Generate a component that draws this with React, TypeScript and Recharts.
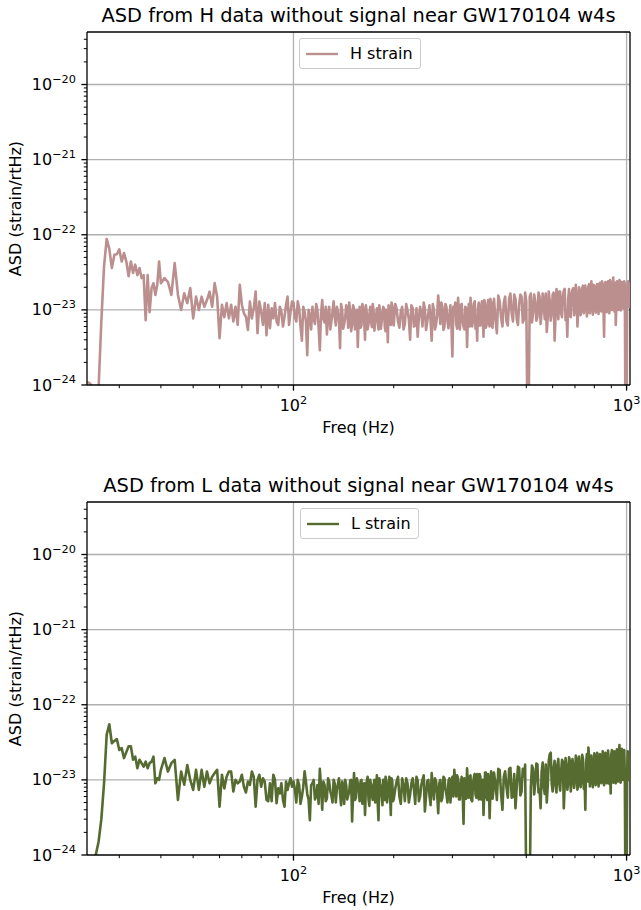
import React from 'react';
import { LineChart, Line, XAxis, YAxis, CartesianGrid, ReferenceLine, Legend } from 'recharts';

const FONT = '"DejaVu Sans", Verdana, sans-serif';

// frequency bins (Hz)
const freqLow = [24, 24.5, 25, 25.5, 26, 26.5, 27, 27.5, 28, 28.5, 29, 29.5, 30, 30.5, 31, 31.5, 32, 32.5, 33, 33.5, 34, 34.5, 35, 35.5, 36, 36.5, 37, 37.5, 38, 38.5, 39, 39.5];
const freqMid = [40, 41, 42, 43, 44, 45, 46, 47, 48, 49, 50, 51, 52, 53, 54, 55, 56, 57, 58, 59, 60, 61, 62, 63, 64, 65, 66, 67, 68, 69, 70, 71, 72, 73, 74, 75, 76, 77, 78, 79, 80, 81, 82, 83, 84, 85, 86, 87, 88, 89, 90, 91, 92, 93, 94, 95, 96, 97, 98, 99];
const freqHigh1 = [100, 102, 104, 106, 108, 110, 112, 114, 116, 118, 120, 122, 124, 126, 128, 130, 132, 134, 136, 138, 140, 142, 144, 146, 148, 150, 152, 154, 156, 158, 160, 162, 164, 166, 168, 170, 172, 174, 176, 178, 180, 182, 184, 186, 188, 190, 192, 194, 196, 198];
const freqHigh1b = [101, 103, 105, 107, 109, 111, 113, 115, 117, 119, 121, 123, 125, 127, 129, 131, 133, 135, 137, 139, 141, 143, 145, 147, 149, 151, 153, 155, 157, 159, 161, 163, 165, 167, 169, 171, 173, 175, 177, 179, 181, 183, 185, 187, 189, 191, 193, 195, 197, 199];
const freqHigh2 = [200, 204, 208, 212, 216, 220, 224, 228, 232, 236, 240, 244, 248, 252, 256, 260, 264, 268, 272, 276, 280, 284, 288, 292, 296, 300, 304, 308, 312, 316, 320, 324, 328, 332, 336, 340, 344, 348, 352, 356, 360, 364, 368, 372, 376, 380, 384, 388, 392, 396];
const freqHigh2b = [202, 206, 210, 214, 218, 222, 226, 230, 234, 238, 242, 246, 250, 254, 258, 262, 266, 270, 274, 278, 282, 286, 290, 294, 298, 302, 306, 310, 314, 318, 322, 326, 330, 334, 338, 342, 346, 350, 354, 358, 362, 366, 370, 374, 378, 382, 386, 390, 394, 398];
const freqHigh3 = [400, 408, 416, 424, 432, 440, 448, 456, 464, 472, 480, 488, 496, 504, 512, 520, 528, 536, 544, 552, 560, 568, 576, 584, 592, 600, 608, 616, 624, 632, 640, 648, 656, 664, 672, 680, 688, 696, 704, 712, 720, 728, 736, 744, 752, 760, 768, 776, 784, 792, 800, 808, 816, 824, 832, 840, 848, 856, 864, 872, 880, 888, 896, 904, 912, 920, 928, 936, 944, 952, 960, 968, 976, 984, 992, 1000, 1008, 1016, 1024];
const freqHigh3b = [404, 412, 420, 428, 436, 444, 452, 460, 468, 476, 484, 492, 500, 508, 516, 524, 532, 540, 548, 556, 564, 572, 580, 588, 596, 604, 612, 620, 628, 636, 644, 652, 660, 668, 676, 684, 692, 700, 708, 716, 724, 732, 740, 748, 756, 764, 772, 780, 788, 796, 804, 812, 820, 828, 836, 844, 852, 860, 868, 876, 884, 892, 900, 908, 916, 924, 932, 940, 948, 956, 964, 972, 980, 988, 996, 1004, 1012, 1020];

// H1 ASD, in units of 1e-24 strain/rtHz
const hLow = [1.1, 1.05, 0.9, 0.7, 0.9, 7, 38, 88, 65, 36, 54, 55, 64, 44, 57, 44, 28, 44, 31, 40, 29, 36, 26.5, 29, 7.3, 29, 9.3, 19.5, 22.7, 15.8, 21.5, 44];
const hMid = [22.7, 26.5, 23.5, 15.8, 42, 15.8, 10, 16.6, 12.3, 19.5, 7.7, 15, 10, 15, 11, 13.5, 17.5, 11, 22.7, 15, 4.2, 11.7, 8, 12.3, 7.7, 11.7, 7, 11, 6.3, 21.5, 11.7, 9, 8.1, 5.4, 12.9, 7.7, 10.5, 17.5, 4.9, 12.9, 9.5, 6.3, 12.3, 4.6, 11.7, 5.7, 10.5, 7.7, 12.3, 7, 6.3, 11, 9.5, 6, 8.1, 11.7, 15, 6.3, 9.5, 12.9];
const hHigh1 = [12.5, 7, 10.5, 3.9, 9.5, 2.5, 8.5, 11, 6.5, 10, 2.9, 13.5, 6.8, 4.7, 11, 7, 13, 6.2, 9.5, 3.1, 10, 6.5, 11.5, 5.8, 9.8, 6.4, 10.5, 7, 3.2, 11, 6.2, 10.5, 4.0, 9, 6.5, 11, 5.9, 9.8, 6.8, 10.5, 5.5, 9.5, 7, 11, 6, 10, 3.7, 9.5, 6.3, 11];
const hHigh1b = [8, 13, 6, 11, 7, 10, 5.5, 7.5, 12, 5.8, 9, 7.5, 11, 8.5, 5.5, 9.5, 8, 11, 7, 12, 5.6, 8, 9.5, 12.5, 5.2, 11.5, 5.5, 10, 8, 5.8, 12, 7.5, 11.5, 5.5, 8.5, 7, 12, 5.3, 8, 7.5, 11.5, 5.6, 8.5, 10.5, 5.2, 8, 11.5, 6.5, 12.5, 7];
const hHigh2 = [6.2, 10.5, 5.8, 11, 6.5, 9.8, 4.0, 10.5, 6.2, 4.4, 11, 6, 10.5, 6.8, 11.5, 3.9, 10, 6.4, 15.5, 6.5, 11, 6, 10.8, 5.7, 11.5, 2.4, 9.5, 6.5, 14.5, 5.5, 12, 6, 11, 3.2, 12, 14.5, 6, 12, 5.6, 3.9, 12.5, 6.2, 13, 4.4, 12, 6.3, 13.5, 6, 12.5, 5.8];
const hHigh2b = [12, 7, 9.5, 5.5, 12, 7.5, 11.5, 6, 10.5, 8, 9, 12.5, 5.4, 9, 7.2, 12, 5.5, 8.5, 10, 12.5, 5.4, 12, 7, 8.5, 6.2, 11, 12.5, 5.6, 9, 11.5, 7, 5.5, 10.5, 8, 6, 10, 7.5, 13, 8, 10.5, 6.2, 11, 7.5, 13.5, 5.8, 10, 7.2, 14, 6.4, 11];
const hHigh3 = [14, 4.9, 13, 6, 15, 6.2, 16.5, 7, 14, 6.3, 16, 6.8, 17, 0.3, 15, 6.8, 16, 7.2, 17, 6.5, 16.5, 7.5, 5.1, 17.5, 7.2, 16, 3.9, 19, 7.5, 17.5, 8, 18, 7.3, 4.4, 19, 8, 18.5, 8.5, 21.5, 6, 20, 8.5, 19.5, 9, 21, 8.2, 20.5, 9, 24, 8.6, 21, 9.2, 22, 8.8, 23, 9.5, 22, 4.4, 23.5, 9.3, 24, 9, 23, 10, 27, 9.5, 6.3, 24, 10, 25, 9.8, 23.5, 10.5, 24, 0.3, 0.3, 22, 11, 23];
const hHigh3b = [7.5, 15.5, 8, 12.5, 7, 14, 9, 16, 7.5, 12, 15, 7.5, 13, 0.3, 16.5, 9, 13, 8, 15, 9.5, 12, 16.5, 8, 13, 9, 17, 8, 14, 17.5, 9, 15, 19, 9.5, 14, 8.5, 16, 19.5, 10, 15, 9.5, 18, 10, 21, 11, 17, 10, 22, 11, 17, 21.5, 10.5, 18, 10.5, 21, 11, 24, 11, 18, 10.5, 21, 12, 25, 11, 19, 11.5, 23, 12, 20, 11.5, 24, 12, 20, 11, 22, 0.3, 12, 24, 12];

// L1 ASD, in units of 1e-24 strain/rtHz
const lLow = [0.3, 0.5, 0.6, 1.0, 1.5, 3, 9, 40, 55, 30.7, 33, 35, 25, 26.5, 19.5, 23.4, 28, 28, 18.5, 20.4, 14.3, 18.5, 16.7, 15, 17.5, 14.3, 16.7, 17.5, 20.4, 9, 10.5, 10];
const lMid = [13.6, 19.5, 12.9, 16.7, 18.5, 5.4, 12.9, 8.6, 15.8, 10, 7.35, 13.6, 7.35, 13.6, 8.1, 12.9, 9, 11, 12.3, 13.6, 4.4, 11.7, 7.7, 11, 12.9, 12.9, 7, 10, 9, 9.5, 11.7, 8.1, 6.8, 9.5, 8.6, 12.9, 11, 4.4, 10, 11.7, 8.1, 10.5, 9.5, 5.4, 5.2, 9, 5.2, 11.7, 10, 4.9, 7.7, 6.6, 9, 5.4, 4.4, 9.5, 7.35, 9, 10.5, 8.1];
const lHigh1 = [9.5, 5, 8.5, 6, 13, 6.5, 2.9, 9, 5.5, 8.5, 14, 4, 8.5, 5.6, 9.5, 6.2, 10, 5, 8.8, 6.5, 9.5, 4.8, 8.5, 6.2, 9.8, 2.8, 12.3, 5.8, 9, 5.2, 10, 6, 3.4, 9.5, 5.5, 10, 6.2, 8.5, 5, 11.5, 2.9, 9, 6, 10, 5.4, 9.2, 6.5, 11, 3.4, 9.5];
const lHigh1b = [7.5, 10, 4.8, 8, 9.5, 5.5, 8.5, 10, 6, 4.8, 8, 9.5, 5.2, 10.5, 7, 5, 9, 7.5, 10.5, 4.6, 8, 10, 5.5, 7, 10, 6.5, 5.4, 10.5, 7.5, 9.5, 4.8, 9, 8, 11, 4.5, 8.5, 5.4, 10, 7.2, 5, 10.5, 8, 4.6, 7.5, 11, 5, 8.5, 6.2, 10.5, 5.2];
const lHigh2 = [5.5, 9.5, 6, 10.5, 5.2, 9, 6.4, 10.5, 4.8, 9.8, 6, 10, 3.8, 9.5, 6.2, 12.3, 5.5, 9.5, 3.6, 10, 5.8, 10.5, 6.3, 9.6, 5, 11, 13.6, 6, 10.5, 5.5, 11, 2.6, 10, 14.3, 5.8, 11.5, 5.2, 10.8, 6.4, 12, 5.5, 11, 6, 3.4, 12.5, 5.8, 12, 3.1, 13, 5.6];
const lHigh2b = [7.5, 11, 4.8, 8.5, 10.5, 5, 9, 7.5, 11, 5.2, 8.5, 11.5, 6, 10, 4.6, 8, 10.5, 6.5, 9, 5.2, 11, 7.5, 5, 10.5, 8, 6, 9.5, 11.5, 5.5, 9, 7, 10.5, 5.6, 8.5, 11, 5.4, 9, 12, 5.8, 8, 12, 5.5, 10, 7, 12.5, 5.4, 9.5, 6.5, 11.5, 7];
const lHigh3 = [12.5, 5.4, 13.5, 4, 13, 5.8, 14.5, 6, 4.2, 15, 6.2, 14, 16, 0.3, 0.3, 15.5, 6.4, 16.5, 6.8, 4.2, 17, 6.5, 5, 18, 23, 7, 18, 6.8, 19, 7.2, 18.5, 4.2, 19.5, 7.4, 20, 7, 19, 7.8, 21, 7.4, 20.5, 8, 21.5, 7.6, 4, 22, 27, 8.2, 21, 8, 22.5, 8.5, 23, 8.2, 22, 9, 24, 8.5, 23, 9, 24.5, 8.8, 6.6, 25, 9.2, 24, 9, 25.5, 9.5, 29, 9.2, 26, 10, 25, 0.3, 0.3, 24, 10, 22];
const lHigh3b = [9, 14, 6.5, 11, 8, 14, 5.8, 12, 8, 14.5, 7, 11, 0.3, 0.3, 8, 14, 9, 16, 7.5, 13, 8, 16, 8.5, 22, 9, 14, 8.5, 16, 9, 13, 17.5, 8.5, 15, 9, 18, 9.5, 15, 10, 18.5, 9, 15, 10, 19, 10.5, 17, 9.5, 20, 10.5, 16, 11, 20, 10, 17, 11, 21, 10.5, 18, 11, 22, 11.5, 19, 12, 22, 11, 20, 12, 23, 11.5, 21, 12.5, 24, 12, 22, 12, 0.3, 12, 21, 12];

const segments = [
  { f: freqLow, h: hLow, l: lLow },
  { f: freqMid, h: hMid, l: lMid },
  { f: freqHigh1, h: hHigh1, l: lHigh1 },
  { f: freqHigh1b, h: hHigh1b, l: lHigh1b },
  { f: freqHigh2, h: hHigh2, l: lHigh2 },
  { f: freqHigh2b, h: hHigh2b, l: lHigh2b },
  { f: freqHigh3, h: hHigh3, l: lHigh3 },
  { f: freqHigh3b, h: hHigh3b, l: lHigh3b },
];

const rows = segments
  .flatMap((s) => s.f.map((f, i) => ({ f, h: s.h[i] * 1e-24, l: s.l[i] * 1e-24 })))
  .sort((a, b) => a.f - b.f);

const xMajor = [100, 1000];
const xMinor = [30, 40, 50, 60, 70, 80, 90, 200, 300, 400, 500, 600, 700, 800, 900];
const yMajor = [1e-24, 1e-23, 1e-22, 1e-21, 1e-20];
const yMinor = [-24, -23, -22, -21, -20]
  .flatMap((e) => [2, 3, 4, 5, 6, 7, 8, 9].map((m) => m * Math.pow(10, e)))
  .filter((v) => v < 4.9e-20);

const xDomain = [24, 1024];
const yDomain = [1e-24, 5e-20];

const isMajor = (v: number, majors: number[]) => majors.some((m) => Math.abs(v / m - 1) < 1e-6);
const expOf = (v: number) => Math.round(Math.log10(v));

const XTick = (props: any) => {
  const { x, y, payload } = props;
  const major = isMajor(payload.value, xMajor);
  return (
    <g>
      <line x1={x} x2={x} y1={y} y2={y + (major ? 5.6 : 3.2)} stroke="#000" strokeWidth={major ? 1.3 : 1} />
      {major && (
        <text x={x} y={y + 26} textAnchor="middle" fontSize={16} fontFamily={FONT} fill="#000">
          10<tspan dy={-7.5} fontSize={11.3}>{expOf(payload.value)}</tspan>
        </text>
      )}
    </g>
  );
};

const YTick = (props: any) => {
  const { x, y, payload } = props;
  const major = isMajor(payload.value, yMajor);
  return (
    <g>
      <line x1={x} x2={x - (major ? 5.6 : 3.2)} y1={y} y2={y} stroke="#000" strokeWidth={major ? 1.3 : 1} />
      {major && (
        <text x={x - 11} y={y + 5.5} textAnchor="end" fontSize={16} fontFamily={FONT} fill="#000">
          10<tspan dy={-7.5} fontSize={11.3}>{'\u2212' + Math.abs(expOf(payload.value))}</tspan>
        </text>
      )}
    </g>
  );
};

const legendContent = (props: any) => {
  const item = props.payload && props.payload[0];
  if (!item) return null;
  return (
    <div
      style={{
        boxSizing: 'border-box',
        width: '100%',
        height: '100%',
        border: '1px solid #cccccc',
        borderRadius: 3,
        background: 'rgba(255,255,255,0.8)',
        display: 'flex',
        alignItems: 'center',
        fontFamily: FONT,
        fontSize: 16,
        color: '#000',
      }}
    >
      <svg width={32} height={8} style={{ marginLeft: 6, marginRight: 12 }}>
        <line x1={0} x2={32} y1={4} y2={4} stroke={item.color} strokeWidth={2.4} />
      </svg>
      <span>{item.value}</span>
    </div>
  );
};

type PanelProps = {
  title: string;
  dataKey: string;
  name: string;
  color: string;
  height: number;
  xAxisHeight: number;
  legendLeft: number;
  legendWidth: number;
};

const Panel = ({ title, dataKey, name, color, height, xAxisHeight, legendLeft, legendWidth }: PanelProps) => (
  <LineChart width={641} height={height} data={rows} margin={{ top: 32, right: 11, bottom: 0, left: 0 }}>
    <CartesianGrid
      horizontalValues={yMajor.slice(1)}
      verticalValues={xMajor}
      stroke="#b0b0b0"
      strokeWidth={1.3}
    />
    <XAxis
      dataKey="f"
      type="number"
      scale="log"
      domain={xDomain}
      allowDataOverflow
      ticks={[...xMinor, ...xMajor]}
      interval={0}
      tickSize={0}
      tickMargin={0}
      tickLine={false}
      tick={(p: any) => <XTick {...p} />}
      height={xAxisHeight}
      axisLine={{ stroke: '#000', strokeWidth: 1.3 }}
    />
    <YAxis
      type="number"
      scale="log"
      domain={yDomain}
      allowDataOverflow
      ticks={[...yMinor, ...yMajor]}
      interval={0}
      tickSize={0}
      tickMargin={0}
      tickLine={false}
      tick={(p: any) => <YTick {...p} />}
      width={87}
      axisLine={{ stroke: '#000', strokeWidth: 1.3 }}
    />
    <ReferenceLine y={yDomain[1]} stroke="#000" strokeWidth={1.3} ifOverflow="visible" />
    <ReferenceLine x={xDomain[1]} stroke="#000" strokeWidth={1.3} ifOverflow="visible" />
    <Legend
      layout="horizontal"
      verticalAlign="middle"
      align="center"
      wrapperStyle={{ top: 38, left: legendLeft, width: legendWidth, height: 31 }}
      content={legendContent}
    />
    <Line
      type="linear"
      dataKey={dataKey}
      name={name}
      stroke={color}
      strokeWidth={2.6}
      strokeLinejoin="round"
      dot={false}
      activeDot={false}
      isAnimationActive={false}
    />
    <text x={358.5} y={22} textAnchor="middle" fontSize={19.4} fontFamily={FONT} fill="#000">
      {title}
    </text>
    <text x={358.5} y={433} textAnchor="middle" fontSize={16} fontFamily={FONT} fill="#000">
      Freq (Hz)
    </text>
    <text
      x={20.5}
      y={208.5}
      transform="rotate(-90, 20.5, 208.5)"
      textAnchor="middle"
      fontSize={16}
      fontFamily={FONT}
      fill="#000"
    >
      ASD (strain/rtHz)
    </text>
  </LineChart>
);

export default function App() {
  return (
    <div style={{ position: 'absolute', left: 0, top: 0, width: 641, height: 910, background: '#fff' }}>
      <Panel
        title="ASD from H data without signal near GW170104 w4s"
        dataKey="h"
        name="H strain"
        color="#bc8f8f"
        height={470}
        xAxisHeight={85}
        legendLeft={299}
        legendWidth={122}
      />
      <Panel
        title="ASD from L data without signal near GW170104 w4s"
        dataKey="l"
        name="L strain"
        color="#556b2f"
        height={440}
        xAxisHeight={55}
        legendLeft={300}
        legendWidth={119}
      />
    </div>
  );
}
